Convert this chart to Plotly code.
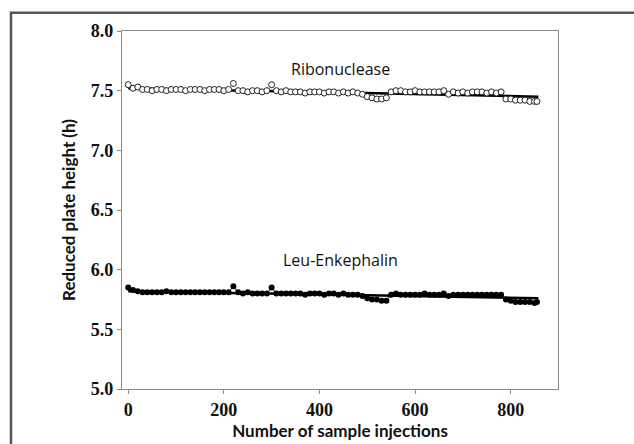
import plotly.graph_objects as go

injections = [0, 10, 20, 30, 40, 50, 60, 70, 80, 90, 100, 110, 120, 130, 140, 150, 160, 170, 180, 190,
              200, 210, 220, 230, 240, 250, 260, 270, 280, 290, 300, 310, 320, 330, 340, 350, 360, 370, 380, 390,
              400, 410, 420, 430, 440, 450, 460, 470, 480, 490, 500, 510, 520, 530, 540, 550, 560, 570, 580, 590,
              600, 610, 620, 630, 640, 650, 660, 670, 680, 690, 700, 710, 720, 730, 740, 750, 760, 770, 780, 790,
              800, 810, 820, 830, 840, 850, 855]

ribonuclease = [7.55, 7.52, 7.53, 7.51, 7.51, 7.50, 7.51, 7.51, 7.50, 7.51, 7.51, 7.51, 7.50, 7.51, 7.51, 7.51, 7.50, 7.51, 7.51, 7.51,
                7.50, 7.51, 7.56, 7.50, 7.50, 7.49, 7.50, 7.50, 7.49, 7.50, 7.55, 7.50, 7.49, 7.50, 7.49, 7.49, 7.49, 7.48, 7.49, 7.49,
                7.49, 7.48, 7.49, 7.49, 7.48, 7.49, 7.48, 7.49, 7.48, 7.47, 7.45, 7.44, 7.43, 7.43, 7.44, 7.49, 7.50, 7.50, 7.49, 7.49,
                7.50, 7.49, 7.49, 7.49, 7.49, 7.49, 7.50, 7.47, 7.49, 7.48, 7.49, 7.48, 7.49, 7.49, 7.49, 7.48, 7.49, 7.48, 7.49, 7.43,
                7.43, 7.42, 7.42, 7.42, 7.41, 7.41, 7.41]

leu_enkephalin = [5.85, 5.83, 5.82, 5.81, 5.81, 5.81, 5.81, 5.81, 5.82, 5.81, 5.81, 5.81, 5.81, 5.81, 5.81, 5.81, 5.81, 5.81, 5.81, 5.81,
                  5.81, 5.81, 5.86, 5.81, 5.80, 5.81, 5.80, 5.80, 5.80, 5.80, 5.85, 5.80, 5.80, 5.80, 5.80, 5.80, 5.80, 5.79, 5.80, 5.80,
                  5.80, 5.79, 5.80, 5.80, 5.79, 5.80, 5.79, 5.79, 5.79, 5.78, 5.76, 5.75, 5.75, 5.74, 5.74, 5.79, 5.80, 5.79, 5.79, 5.79,
                  5.79, 5.79, 5.80, 5.79, 5.79, 5.79, 5.80, 5.78, 5.79, 5.79, 5.79, 5.79, 5.79, 5.79, 5.79, 5.79, 5.79, 5.79, 5.79, 5.75,
                  5.74, 5.73, 5.73, 5.73, 5.73, 5.72, 5.73]

fit_x = [0, 858]
ribonuclease_fit = [7.52, 7.45]
leu_fit = [5.82, 5.76]

x_ticks = [0, 200, 400, 600, 800]
y_ticks = [5.0, 5.5, 6.0, 6.5, 7.0, 7.5, 8.0]

fig = go.Figure()

fig.add_trace(go.Scatter(x=fit_x, y=ribonuclease_fit, mode="lines",
                         line=dict(color="black", width=2.5), showlegend=False))
fig.add_trace(go.Scatter(x=fit_x, y=leu_fit, mode="lines",
                         line=dict(color="black", width=2.5), showlegend=False))
fig.add_trace(go.Scatter(x=injections, y=ribonuclease, mode="markers",
                         marker=dict(symbol="circle", size=6, color="white",
                                     line=dict(color="#222", width=1)),
                         showlegend=False))
fig.add_trace(go.Scatter(x=injections, y=leu_enkephalin, mode="lines+markers",
                         line=dict(color="black", width=1),
                         marker=dict(symbol="circle", size=6, color="black"),
                         showlegend=False))

fig.add_annotation(x=443, y=7.685, text="Ribonuclease", showarrow=False,
                   font=dict(family="Open Sans", size=16, color="#111"))
fig.add_annotation(x=443, y=6.08, text="Leu-Enkephalin", showarrow=False,
                   font=dict(family="Open Sans", size=16, color="#111"))

# outer frame
fig.add_shape(type="rect", xref="paper", yref="paper",
              x0=-0.2546, x1=1.2, y0=-0.2, y1=1.051,
              line=dict(color="#555", width=2.5), fillcolor="rgba(0,0,0,0)")

tickfont = dict(family="Liberation Serif", size=18, color="#111", weight="bold")
titlefont = dict(family="Lato", size=17, color="#111", weight="bold")

fig.update_xaxes(range=[-13, 899], tickvals=x_ticks, ticktext=[str(v) for v in x_ticks],
                 showgrid=False, zeroline=False, showline=True, mirror=True,
                 linecolor="#8a8a8a", linewidth=1.2, ticks="outside", ticklen=4,
                 tickcolor="#8a8a8a", tickfont=tickfont,
                 title=dict(text="Number of sample injections", font=titlefont, standoff=0))
fig.update_yaxes(range=[5.0, 8.0], tickvals=y_ticks, ticktext=[f"{v:.1f}" for v in y_ticks],
                 showgrid=False, zeroline=False, showline=True, mirror=True,
                 linecolor="#8a8a8a", linewidth=1.2, ticks="outside", ticklen=4,
                 tickcolor="#8a8a8a", tickfont=tickfont,
                 title=dict(text="Reduced plate height (h)", font=titlefont, standoff=10))

fig.update_layout(width=634, height=444, margin=dict(l=122, r=76, t=31, b=41),
                  plot_bgcolor="white", paper_bgcolor="white")

fig.write_html("out.html")
